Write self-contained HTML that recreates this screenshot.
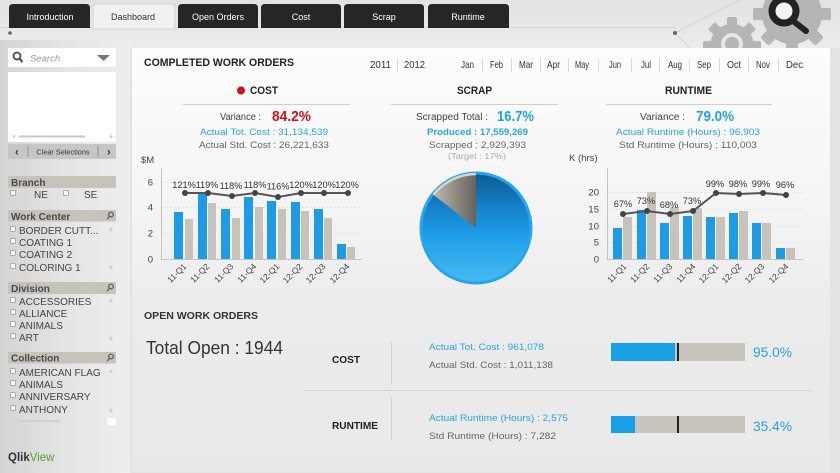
<!DOCTYPE html>
<html><head><meta charset="utf-8"><style>
html,body{margin:0;padding:0;background:#e6e6e6;}
svg{display:block;font-family:"Liberation Sans",Arial,sans-serif;}
</style></head><body>
<svg width="840" height="473" viewBox="0 0 840 473" xmlns="http://www.w3.org/2000/svg">
<defs>
<clipPath id="topclip"><rect x="0" y="0" width="840" height="48"/></clipPath>
<linearGradient id="side" x1="0" y1="0" x2="1" y2="0">
<stop offset="0" stop-color="#d4d4d4"/><stop offset="0.5" stop-color="#e4e4e4"/><stop offset="1" stop-color="#eeeeee"/></linearGradient>
<linearGradient id="panel" x1="0" y1="0" x2="0" y2="1">
<stop offset="0" stop-color="#fdfdfd"/><stop offset="0.35" stop-color="#f5f5f5"/><stop offset="0.6" stop-color="#ececec"/><stop offset="1" stop-color="#e9e9e9"/></linearGradient>
<linearGradient id="topbg" x1="0" y1="0" x2="0" y2="1">
<stop offset="0" stop-color="#e2e2e2"/><stop offset="1" stop-color="#ececec"/></linearGradient>
<linearGradient id="pieb" x1="0" y1="0" x2="0" y2="1">
<stop offset="0" stop-color="#0d5a8e"/><stop offset="0.3" stop-color="#1580c8"/><stop offset="0.55" stop-color="#1c9ce6"/><stop offset="1" stop-color="#48baf3"/></linearGradient>
<linearGradient id="pieg" x1="1" y1="0" x2="0" y2="0">
<stop offset="0" stop-color="#67625c"/><stop offset="1" stop-color="#bdb8b0"/></linearGradient>
</defs>
<!-- backgrounds -->
<rect x="0" y="0" width="840" height="473" fill="#e3e3e3"/>
<rect x="0" y="0" width="840" height="48" fill="url(#topbg)"/>
<rect x="0" y="40" width="130" height="433" fill="url(#side)"/>
<rect x="132" y="48" width="698" height="424" fill="url(#panel)"/>
<!-- gears -->
<g clip-path="url(#topclip)">
<g fill="#b5b5b5">
<circle cx="732" cy="46" r="22"/>
<g transform="translate(732,46)">
<rect x="-5" y="-29" width="10" height="58" rx="2"/><rect x="-5" y="-29" width="10" height="58" rx="2" transform="rotate(45)"/><rect x="-5" y="-29" width="10" height="58" rx="2" transform="rotate(90)"/><rect x="-5" y="-29" width="10" height="58" rx="2" transform="rotate(135)"/>
</g>
<circle cx="792" cy="14" r="30"/>
<g transform="translate(792,14)">
<rect x="-6" y="-39" width="12" height="78" rx="2"/><rect x="-6" y="-39" width="12" height="78" rx="2" transform="rotate(45)"/><rect x="-6" y="-39" width="12" height="78" rx="2" transform="rotate(90)"/><rect x="-6" y="-39" width="12" height="78" rx="2" transform="rotate(135)"/>
</g>
</g>
<circle cx="732" cy="44" r="9" fill="none" stroke="#e6e6e6" stroke-width="4"/>
<line x1="792" y1="20" x2="806" y2="31" stroke="#222" stroke-width="6" stroke-linecap="round"/>
<circle cx="784" cy="11" r="12" fill="#f4f4f4" stroke="#222" stroke-width="7"/>
</g>
<!-- network lines -->
<g stroke="#cfcfcf" stroke-width="0.8" fill="none">
<line x1="0" y1="27.5" x2="675" y2="27.5"/>
<line x1="675" y1="33" x2="740" y2="0"/>
<line x1="675" y1="33" x2="690" y2="48"/>
</g>
<circle cx="675" cy="33" r="2" fill="#666"/>
<circle cx="10" cy="33" r="1.8" fill="#666"/>
<rect x="132" y="48" width="698" height="10" fill="#fdfdfd"/>
<!-- tabs -->
<g font-size="9" fill="#fff" text-anchor="middle">
<path d="M9,28 V8 Q9,4 13,4 H86 Q90,4 90,8 V28 Z" fill="#262626"/>
<path d="M93,29 V8 Q93,4 97,4 H171 Q175,4 175,8 V29 Z" fill="#f1f1f1" stroke="#cdcdcd" stroke-width="0.8"/>
<path d="M178,28 V8 Q178,4 182,4 H254 Q258,4 258,8 V28 Z" fill="#262626"/>
<path d="M261,28 V8 Q261,4 265,4 H337 Q341,4 341,8 V28 Z" fill="#262626"/>
<path d="M344,28 V8 Q344,4 348,4 H420 Q424,4 424,8 V28 Z" fill="#262626"/>
<path d="M428,28 V8 Q428,4 432,4 H505 Q509,4 509,8 V28 Z" fill="#262626"/>
<text x="50" y="20">Introduction</text>
<text x="133" y="20" fill="#333">Dashboard</text>
<text x="218" y="20">Open Orders</text>
<text x="301" y="20">Cost</text>
<text x="384" y="20">Scrap</text>
<text x="468" y="20">Runtime</text>
</g>
<!-- sidebar -->
<rect x="8" y="48" width="108" height="19" fill="#fff"/>
<circle cx="17" cy="56" r="3.5" fill="none" stroke="#555" stroke-width="2"/>
<line x1="19.5" y1="58.5" x2="22.5" y2="62" stroke="#555" stroke-width="2.2"/>
<text x="30" y="61.5" font-size="9.5" font-style="italic" fill="#999">Search</text>
<path d="M97,55 H110 L103.5,61 Z" fill="#777"/>
<rect x="8" y="72" width="108" height="70" fill="#fff"/>
<line x1="19" y1="136.5" x2="85" y2="136.5" stroke="#c8c8c8" stroke-width="2"/>
<path d="M12,136.5 L15,134.5 V138.5Z M113,136.5 L110,134.5 V138.5Z" fill="#ccc"/>
<rect x="8" y="144" width="108" height="15" fill="#c6c6c6"/>
<text x="15" y="155.5" font-size="11" font-weight="bold" fill="#333">&#x2039;</text>
<text x="107" y="155.5" font-size="11" font-weight="bold" fill="#333">&#x203A;</text>
<line x1="28" y1="146" x2="28" y2="157" stroke="#888" stroke-width="0.8"/>
<line x1="98" y1="146" x2="98" y2="157" stroke="#888" stroke-width="0.8"/>
<text x="63" y="154.5" font-size="7.3" fill="#333" text-anchor="middle">Clear Selections</text>
<g font-size="10" fill="#444">
<rect x="8" y="176" width="108" height="12" fill="#c7c2ba"/>
<text x="11" y="186" font-weight="bold" fill="#4a4a4a">Branch</text>
<text x="34" y="198">NE</text><text x="84" y="198">SE</text>
<rect x="8" y="210" width="108" height="11.5" fill="#c7c2ba"/>
<text x="11" y="220" font-weight="bold" fill="#4a4a4a">Work Center</text>
<text x="19" y="234">BORDER CUTT...</text>
<text x="19" y="246">COATING 1</text>
<text x="19" y="258">COATING 2</text>
<text x="19" y="271">COLORING 1</text>
<rect x="8" y="282" width="108" height="12" fill="#c7c2ba"/>
<text x="11" y="292" font-weight="bold" fill="#4a4a4a">Division</text>
<text x="19" y="305">ACCESSORIES</text>
<text x="19" y="317">ALLIANCE</text>
<text x="19" y="329">ANIMALS</text>
<text x="19" y="341">ART</text>
<rect x="8" y="352" width="108" height="11.5" fill="#c7c2ba"/>
<text x="11" y="361.5" font-weight="bold" fill="#4a4a4a">Collection</text>
<text x="19" y="376">AMERICAN FLAG</text>
<text x="19" y="388">ANIMALS</text>
<text x="19" y="400">ANNIVERSARY</text>
<text x="19" y="413">ANTHONY</text>
</g>
<g fill="#fff" stroke="#999" stroke-width="0.8">
<rect x="10.5" y="190.5" width="5" height="5" rx="1"/><rect x="63.5" y="190.5" width="5" height="5" rx="1"/>
<rect x="10.5" y="226.5" width="5" height="5" rx="1"/><rect x="10.5" y="238.5" width="5" height="5" rx="1"/><rect x="10.5" y="250.5" width="5" height="5" rx="1"/><rect x="10.5" y="263.5" width="5" height="5" rx="1"/>
<rect x="10.5" y="297.5" width="5" height="5" rx="1"/><rect x="10.5" y="309.5" width="5" height="5" rx="1"/><rect x="10.5" y="321.5" width="5" height="5" rx="1"/><rect x="10.5" y="333.5" width="5" height="5" rx="1"/>
<rect x="10.5" y="368.5" width="5" height="5" rx="1"/><rect x="10.5" y="380.5" width="5" height="5" rx="1"/><rect x="10.5" y="392.5" width="5" height="5" rx="1"/><rect x="10.5" y="405.5" width="5" height="5" rx="1"/>
</g>
<g stroke="#555" stroke-width="1.2" fill="none">
<circle cx="111" cy="214.5" r="2.3"/><line x1="109.5" y1="216.5" x2="107" y2="219"/>
<circle cx="111" cy="286.5" r="2.3"/><line x1="109.5" y1="288.5" x2="107" y2="291"/>
<circle cx="111" cy="356.5" r="2.3"/><line x1="109.5" y1="358.5" x2="107" y2="361"/>
</g>
<g fill="#cfcfcf">
<path d="M111,227 L113,231 H109Z M111,270 L113,266 H109Z M111,298 L113,302 H109Z M111,341 L113,337 H109Z M111,369 L113,373 H109Z M111,413 L113,409 H109Z"/>
</g>
<line x1="19" y1="421" x2="60" y2="421" stroke="#cfcfcf" stroke-width="2"/>
<rect x="107" y="418" width="9" height="7" fill="#fff"/>
<text x="8" y="461" font-size="11.5" font-weight="bold"><tspan fill="#333">Qlik</tspan><tspan fill="#5aa02c" font-weight="normal">View</tspan></text>
<!-- panel header -->
<text x="144" y="66" font-size="11" font-weight="bold" fill="#222" textLength="150" lengthAdjust="spacingAndGlyphs">COMPLETED WORK ORDERS</text>
<g font-size="10.5" fill="#333">
<text x="370" y="68" textLength="21" lengthAdjust="spacingAndGlyphs">2011</text>
<text x="404" y="68" textLength="21" lengthAdjust="spacingAndGlyphs">2012</text>
<text x="461" y="68" textLength="13" lengthAdjust="spacingAndGlyphs">Jan</text>
<text x="490" y="68" textLength="13" lengthAdjust="spacingAndGlyphs">Feb</text>
<text x="519" y="68" textLength="14" lengthAdjust="spacingAndGlyphs">Mar</text>
<text x="547" y="68" textLength="13" lengthAdjust="spacingAndGlyphs">Apr</text>
<text x="575" y="68" textLength="14" lengthAdjust="spacingAndGlyphs">May</text>
<text x="609" y="68" textLength="12" lengthAdjust="spacingAndGlyphs">Jun</text>
<text x="641" y="68" textLength="10" lengthAdjust="spacingAndGlyphs">Jul</text>
<text x="668" y="68" textLength="14" lengthAdjust="spacingAndGlyphs">Aug</text>
<text x="697" y="68" textLength="14" lengthAdjust="spacingAndGlyphs">Sep</text>
<text x="727" y="68" textLength="14" lengthAdjust="spacingAndGlyphs">Oct</text>
<text x="756" y="68" textLength="14" lengthAdjust="spacingAndGlyphs">Nov</text>
<text x="786" y="68" textLength="17" lengthAdjust="spacingAndGlyphs">Dec</text>
</g>
<g stroke="#d0d0d0" stroke-width="0.8">
<line x1="397.5" y1="58" x2="397.5" y2="72"/>
<line x1="482.5" y1="58" x2="482.5" y2="72"/><line x1="511.5" y1="58" x2="511.5" y2="72"/><line x1="540.5" y1="58" x2="540.5" y2="72"/><line x1="568.5" y1="58" x2="568.5" y2="72"/><line x1="598.5" y1="58" x2="598.5" y2="72"/><line x1="631.5" y1="58" x2="631.5" y2="72"/><line x1="659.5" y1="58" x2="659.5" y2="72"/><line x1="689.5" y1="58" x2="689.5" y2="72"/><line x1="719.5" y1="58" x2="719.5" y2="72"/><line x1="748.5" y1="58" x2="748.5" y2="72"/><line x1="778.5" y1="58" x2="778.5" y2="72"/>
</g>
<!-- section headers -->
<circle cx="241" cy="90.5" r="4" fill="#d0111a"/>
<g font-size="11" font-weight="bold" fill="#222">
<text x="250" y="94" textLength="28" lengthAdjust="spacingAndGlyphs">COST</text>
<text x="457" y="94" textLength="35" lengthAdjust="spacingAndGlyphs">SCRAP</text>
<text x="665" y="94" textLength="47" lengthAdjust="spacingAndGlyphs">RUNTIME</text>
</g>
<g stroke="#cfcfcf" stroke-width="1">
<line x1="183" y1="104.5" x2="350" y2="104.5"/>
<line x1="391" y1="104.5" x2="558" y2="104.5"/>
<line x1="606" y1="104.5" x2="772" y2="104.5"/>
</g>
<g font-size="10" fill="#444">
<text x="220" y="120" textLength="41" lengthAdjust="spacingAndGlyphs">Variance :</text>
<text x="416" y="120" textLength="72" lengthAdjust="spacingAndGlyphs">Scrapped Total :</text>
<text x="640" y="120" textLength="45" lengthAdjust="spacingAndGlyphs">Variance :</text>
</g>
<g font-size="14.5" font-weight="bold">
<text x="272" y="121" fill="#d0111a" textLength="39" lengthAdjust="spacingAndGlyphs">84.2%</text>
<text x="497" y="121" fill="#22a2e8" textLength="37" lengthAdjust="spacingAndGlyphs">16.7%</text>
<text x="696" y="121" fill="#22a2e8" textLength="38" lengthAdjust="spacingAndGlyphs">79.0%</text>
</g>
<g font-size="9.5">
<text x="200" y="135" fill="#28a4e8" textLength="128" lengthAdjust="spacingAndGlyphs">Actual Tot. Cost : 31,134,539</text>
<text x="199" y="148" fill="#666" textLength="130" lengthAdjust="spacingAndGlyphs">Actual Std. Cost : 26,221,633</text>
<text x="427" y="135" fill="#28a4e8" font-weight="bold" textLength="101" lengthAdjust="spacingAndGlyphs">Produced : 17,559,269</text>
<text x="429" y="148" fill="#666" textLength="97" lengthAdjust="spacingAndGlyphs">Scrapped : 2,929,393</text>
<text x="448" y="159" fill="#aaa" font-size="8.5" textLength="58" lengthAdjust="spacingAndGlyphs">(Target : 17%)</text>
<text x="616" y="135" fill="#28a4e8" textLength="144" lengthAdjust="spacingAndGlyphs">Actual Runtime (Hours) : 96,903</text>
<text x="619" y="148" fill="#666" textLength="138" lengthAdjust="spacingAndGlyphs">Std Runtime (Hours) : 110,003</text>
</g>
<!-- COST chart -->
<g font-size="9.5" fill="#444">
<text x="141" y="163">$M</text>
<text x="153" y="185.5" text-anchor="end">6</text>
<text x="153" y="210.5" text-anchor="end">4</text>
<text x="153" y="236.5" text-anchor="end">2</text>
<text x="153" y="262.5" text-anchor="end">0</text>
</g>
<g stroke="#dddddd" stroke-width="0.8" stroke-dasharray="2,2">
<line x1="162" y1="182.5" x2="362" y2="182.5"/><line x1="162" y1="207.5" x2="362" y2="207.5"/><line x1="162" y1="233.5" x2="362" y2="233.5"/>
</g>
<g fill="#1e9be6">
<rect x="174" y="212" width="9" height="47"/><rect x="198" y="193" width="9" height="66"/><rect x="221" y="209" width="9" height="50"/><rect x="244" y="197" width="9" height="62"/><rect x="267" y="201" width="9" height="58"/><rect x="291" y="202" width="9" height="57"/><rect x="314" y="209" width="9" height="50"/><rect x="337" y="244" width="9" height="15"/>
</g>
<g fill="#c7c3bb">
<rect x="185" y="219" width="8" height="40"/><rect x="208" y="203" width="8" height="56"/><rect x="232" y="218" width="8" height="41"/><rect x="255" y="207" width="8" height="52"/><rect x="278" y="209" width="8" height="50"/><rect x="301" y="211" width="8" height="48"/><rect x="324" y="218" width="8" height="41"/><rect x="347" y="247" width="8" height="12"/>
</g>
<g stroke="#c4c4c4" stroke-width="1">
<line x1="161.5" y1="168" x2="161.5" y2="259.5"/><line x1="161" y1="259.5" x2="362" y2="259.5"/>
</g>
<polyline points="185,193 208,193 232,196 255,193 278,197 301,193 324,193 348,193" fill="none" stroke="#555" stroke-width="2"/>
<g fill="#444">
<circle cx="185" cy="193" r="3"/><circle cx="208" cy="193" r="3"/><circle cx="232" cy="196" r="3"/><circle cx="255" cy="193" r="3"/><circle cx="278" cy="197" r="3"/><circle cx="301" cy="193" r="3"/><circle cx="324" cy="193" r="3"/><circle cx="348" cy="193" r="3"/>
</g>
<g font-size="9.2" fill="#333" text-anchor="middle">
<text x="184" y="188">121%</text><text x="207" y="188">119%</text><text x="231" y="189">118%</text><text x="255" y="188">118%</text><text x="278" y="189.5">116%</text><text x="301" y="188">120%</text><text x="324" y="188">120%</text><text x="347" y="188">120%</text>
</g>
<g font-size="8.5" fill="#444" text-anchor="end">
<text x="187" y="267" transform="rotate(-45 187 267)">11-Q1</text>
<text x="210" y="267" transform="rotate(-45 210 267)">11-Q2</text>
<text x="234" y="267" transform="rotate(-45 234 267)">11-Q3</text>
<text x="257" y="267" transform="rotate(-45 257 267)">11-Q4</text>
<text x="280" y="267" transform="rotate(-45 280 267)">12-Q1</text>
<text x="303" y="267" transform="rotate(-45 303 267)">12-Q2</text>
<text x="326" y="267" transform="rotate(-45 326 267)">12-Q3</text>
<text x="350" y="267" transform="rotate(-45 350 267)">12-Q4</text>
</g>
<!-- SCRAP pie -->
<circle cx="476" cy="228" r="55" fill="url(#pieb)" stroke="#27a5ec" stroke-width="3"/>
<path d="M476,228 L476,174 A54,54 0 0 0 433.5,194.7 Z" fill="url(#pieg)"/>
<path d="M476,174 A54,54 0 0 0 433.5,194.7" fill="none" stroke="#d8d5cf" stroke-width="2.5"/>
<!-- RUNTIME chart -->
<g font-size="9.5" fill="#444">
<text x="569" y="161">K (hrs)</text>
<text x="599" y="195.5" text-anchor="end">20</text>
<text x="599" y="212.5" text-anchor="end">15</text>
<text x="599" y="229.5" text-anchor="end">10</text>
<text x="599" y="245.5" text-anchor="end">5</text>
<text x="599" y="262.5" text-anchor="end">0</text>
</g>
<g stroke="#dddddd" stroke-width="0.8" stroke-dasharray="2,2">
<line x1="608" y1="192.5" x2="803" y2="192.5"/><line x1="608" y1="209.5" x2="803" y2="209.5"/><line x1="608" y1="226.5" x2="803" y2="226.5"/><line x1="608" y1="242.5" x2="803" y2="242.5"/>
</g>
<g fill="#1e9be6">
<rect x="613" y="228" width="9" height="31"/><rect x="637" y="210" width="9" height="49"/><rect x="660" y="223" width="9" height="36"/><rect x="683" y="216" width="9" height="43"/><rect x="706" y="217" width="9" height="42"/><rect x="729" y="213" width="9" height="46"/><rect x="752" y="223" width="9" height="36"/><rect x="776" y="248" width="9" height="11"/>
</g>
<g fill="#c7c3bb">
<rect x="623" y="217" width="9" height="42"/><rect x="647" y="192" width="9" height="67"/><rect x="670" y="207" width="9" height="52"/><rect x="693" y="208" width="9" height="51"/><rect x="716" y="217" width="9" height="42"/><rect x="739" y="211" width="9" height="48"/><rect x="762" y="223" width="9" height="36"/><rect x="786" y="248" width="9" height="11"/>
</g>
<g stroke="#c4c4c4" stroke-width="1">
<line x1="607.5" y1="168" x2="607.5" y2="259.5"/><line x1="607" y1="259.5" x2="803" y2="259.5"/>
</g>
<polyline points="623,214 647,211 670,214 693,211 716,193 739,194 763,193 786,195" fill="none" stroke="#555" stroke-width="2"/>
<g fill="#444">
<circle cx="623" cy="214" r="3"/><circle cx="647" cy="211" r="3"/><circle cx="670" cy="214" r="3"/><circle cx="693" cy="211" r="3"/><circle cx="716" cy="193" r="3"/><circle cx="739" cy="194" r="3"/><circle cx="763" cy="193" r="3"/><circle cx="786" cy="195" r="3"/>
</g>
<g font-size="9.2" fill="#333" text-anchor="middle">
<text x="623" y="207">67%</text><text x="646" y="204">73%</text><text x="669" y="208">68%</text><text x="692" y="204">73%</text><text x="715" y="187">99%</text><text x="738" y="187">98%</text><text x="761" y="187">99%</text><text x="785" y="188">96%</text>
</g>
<g font-size="8.5" fill="#444" text-anchor="end">
<text x="627" y="267" transform="rotate(-45 627 267)">11-Q1</text>
<text x="650" y="267" transform="rotate(-45 650 267)">11-Q2</text>
<text x="673" y="267" transform="rotate(-45 673 267)">11-Q3</text>
<text x="696" y="267" transform="rotate(-45 696 267)">11-Q4</text>
<text x="719" y="267" transform="rotate(-45 719 267)">12-Q1</text>
<text x="742" y="267" transform="rotate(-45 742 267)">12-Q2</text>
<text x="765" y="267" transform="rotate(-45 765 267)">12-Q3</text>
<text x="789" y="267" transform="rotate(-45 789 267)">12-Q4</text>
</g>
<!-- OPEN WORK ORDERS -->
<text x="144" y="319" font-size="10.5" font-weight="bold" fill="#333" textLength="114" lengthAdjust="spacingAndGlyphs">OPEN WORK ORDERS</text>
<text x="146" y="354" font-size="18" fill="#333" textLength="137" lengthAdjust="spacingAndGlyphs">Total Open : 1944</text>
<g font-size="10.5" font-weight="bold" fill="#222">
<text x="332" y="363" textLength="28" lengthAdjust="spacingAndGlyphs">COST</text>
<text x="332" y="429" textLength="46" lengthAdjust="spacingAndGlyphs">RUNTIME</text>
</g>
<g stroke="#d2d2d2" stroke-width="1">
<line x1="391.5" y1="342" x2="391.5" y2="385"/>
<line x1="304" y1="390.5" x2="812" y2="390.5"/>
<line x1="391.5" y1="397" x2="391.5" y2="440"/>
</g>
<g font-size="9.5">
<text x="429" y="350" fill="#28a4e8" textLength="115" lengthAdjust="spacingAndGlyphs">Actual Tot. Cost : 961,078</text>
<text x="429" y="368" fill="#666" textLength="124" lengthAdjust="spacingAndGlyphs">Actual Std. Cost : 1,011,138</text>
<text x="429" y="421" fill="#28a4e8" textLength="139" lengthAdjust="spacingAndGlyphs">Actual Runtime (Hours) : 2,575</text>
<text x="429" y="439" fill="#666" textLength="127" lengthAdjust="spacingAndGlyphs">Std Runtime (Hours) : 7,282</text>
</g>
<rect x="611" y="343" width="134" height="18" fill="#c8c4be"/>
<rect x="611" y="343" width="64" height="18" fill="#17a0e8"/>
<rect x="677" y="343" width="2" height="18" fill="#222"/>
<rect x="611" y="416" width="134" height="17" fill="#c8c4be"/>
<rect x="611" y="416" width="24" height="17" fill="#17a0e8"/>
<rect x="677" y="416" width="2" height="17" fill="#222"/>
<g font-size="14" fill="#22a2e8">
<text x="753" y="357" textLength="39" lengthAdjust="spacingAndGlyphs">95.0%</text>
<text x="753" y="431" textLength="39" lengthAdjust="spacingAndGlyphs">35.4%</text>
</g>
</svg>
</body></html>
